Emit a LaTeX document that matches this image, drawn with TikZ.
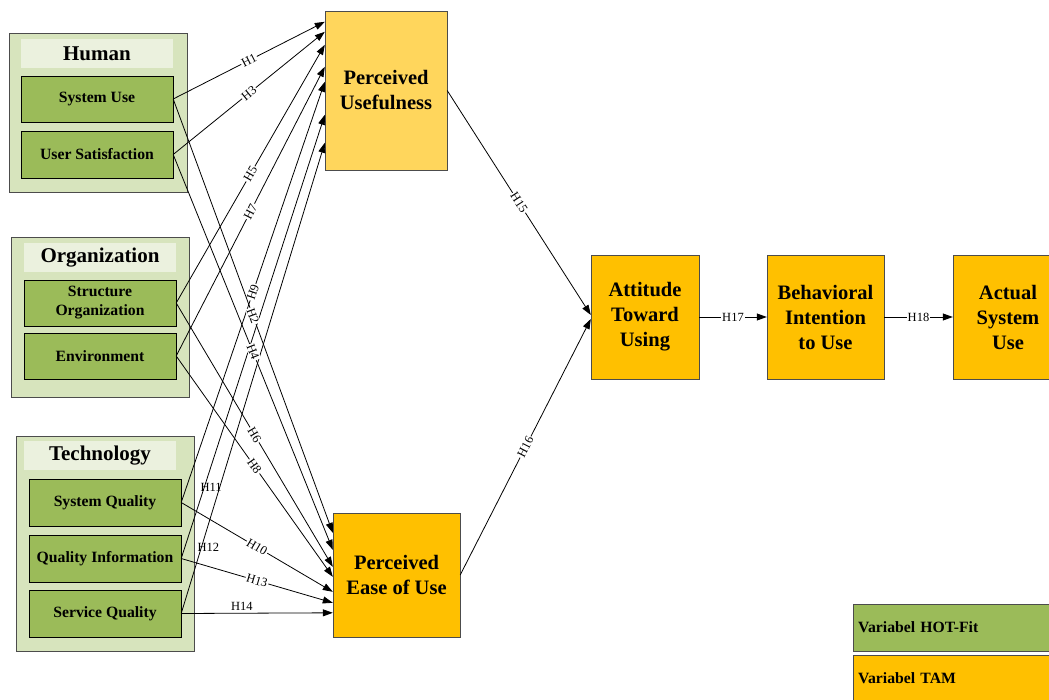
\documentclass[tikz,border=0pt]{standalone}
\usepackage{fontspec}
\setmainfont{Liberation Serif}
\usetikzlibrary{arrows.meta}

\definecolor{hotgreen}{HTML}{9BBB59}
\definecolor{grpbg}{HTML}{D7E4BD}
\definecolor{hdrbg}{HTML}{EBF1DE}
\definecolor{tamgold}{HTML}{FFC000}
\definecolor{pugold}{HTML}{FFD65C}

\tikzset{
  grp/.style={draw=black!70, fill=grpbg, minimum width=178pt, inner sep=0pt},
  hdr/.style={fill=hdrbg, minimum width=152pt, minimum height=29pt, inner sep=0pt,
    font=\fontsize{21}{24}\selectfont\bfseries},
  hot/.style={draw, fill=hotgreen, minimum width=152pt, minimum height=46pt, inner sep=0pt,
    align=center, font=\fontsize{15.7}{19}\selectfont\bfseries},
  tam/.style={draw=black!70, fill=tamgold, inner sep=0pt, align=center,
    font=\fontsize{20.5}{25}\selectfont\bfseries},
  legend/.style={draw=black!70, anchor=west, minimum height=47pt, text width=200pt,
    inner sep=5pt, align=left, font=\fontsize{15.7}{19}\selectfont\bfseries},
  hyp/.style={font=\fontsize{12.5}{13}\selectfont, fill=white, inner sep=1pt, sloped},
  link/.style={-{Triangle[length=10pt,width=7pt]}, line width=0.8pt},
}

\begin{document}
\begin{tikzpicture}[x=1pt, y=-1pt]
	\useasboundingbox (0,0) rectangle (1049,700);
	% Human
	\node[grp, minimum height=159pt] (human) at (98,112.5) {};
	\node[hdr] (humanhdr) at (97,53.5) {Human};
	\node[hot] (su) at (97,99) {System Use};
	\node[hot, minimum height=47pt] (us) at (97,154.5) {User Satisfaction};
	% Organization
	\node[grp, minimum height=160pt] (org) at (100,317) {};
	\node[hdr] (orghdr) at (100,257.5) {Organization};
	\node[hot] (so) at (100,303) {Structure\\Organization};
	\node[hot] (env) at (100,356) {Environment};
	% Technology
	\node[grp, minimum height=215pt] (tech) at (105,543.5) {};
	\node[hdr] (techhdr) at (100,455.5) {Technology};
	\node[hot, minimum height=47pt] (sq) at (105,502.5) {System Quality};
	\node[hot, minimum height=47pt] (qi) at (105,558.5) {Quality Information};
	\node[hot, minimum height=47pt] (sv) at (105,613.5) {Service Quality};
	% TAM
	\node[tam, fill=pugold, minimum width=122pt, minimum height=159pt] (pu) at (386,90.5) {Perceived\\Usefulness};
	\node[tam, minimum width=127pt, minimum height=124pt] (peou) at (396.5,575) {Perceived\\Ease of Use};
	\node[tam, minimum width=108pt, minimum height=124pt] (atu) at (645,317) {Attitude\\Toward\\Using};
	\node[tam, minimum width=117pt, minimum height=124pt] (bi) at (825.5,317) {Behavioral\\Intention\\to Use};
	\node[tam, minimum width=110pt, minimum height=124pt] (asu) at (1008,317) {Actual\\System\\Use};
	% legend
	\node[legend, fill=hotgreen] (leghot) at (853,627.5) {Variabel HOT-Fit};
	\node[legend, fill=tamgold] (legtam) at (853,678.5) {Variabel TAM};

	% HOT-Fit -> Perceived Usefulness
	\foreach \src/\dy/\lab in {su/11/H1, us/21/H3, so/34/H5, env/56/H7, sq/71/H9}
	{
		\draw[link] (\src.east) -- ([yshift=-\dy pt]pu.north west) node[hyp, midway] {\lab};
	}
	\draw[link] (qi.east) -- ([yshift=-104pt]pu.north west) node[pos=0.16, xshift=7pt, font=\fontsize{12.5}{13}\selectfont] {H11};
	\draw[link] (sv.east) -- ([yshift=-132pt]pu.north west) node[pos=0.14, xshift=7pt, font=\fontsize{12.5}{13}\selectfont] {H12};

	% HOT-Fit -> Perceived Ease of Use
	\foreach \src/\dy/\lab in {su/20/H2, us/37/H4, so/54/H6, env/64/H8, sq/79/H10, qi/90/H13}
	{
		\draw[link] (\src.east) -- ([yshift=-\dy pt]peou.north west) node[hyp, midway] {\lab};
	}
	\draw[link] (sv.east) -- ([yshift=-100pt]peou.north west) node[pos=0.4, above=-1pt, font=\fontsize{12.5}{13}\selectfont] {H14};

	% TAM chain
	\draw[link] (pu.east) -- ([yshift=2pt]atu.west) node[hyp, midway] {H15};
	\draw[link] (peou.east) -- ([yshift=-2pt]atu.west) node[hyp, midway] {H16};
	\draw[link] (atu) -- (bi) node[hyp, midway] {H17};
	\draw[link] (bi) -- (asu) node[hyp, midway] {H18};
\end{tikzpicture}
\end{document}
